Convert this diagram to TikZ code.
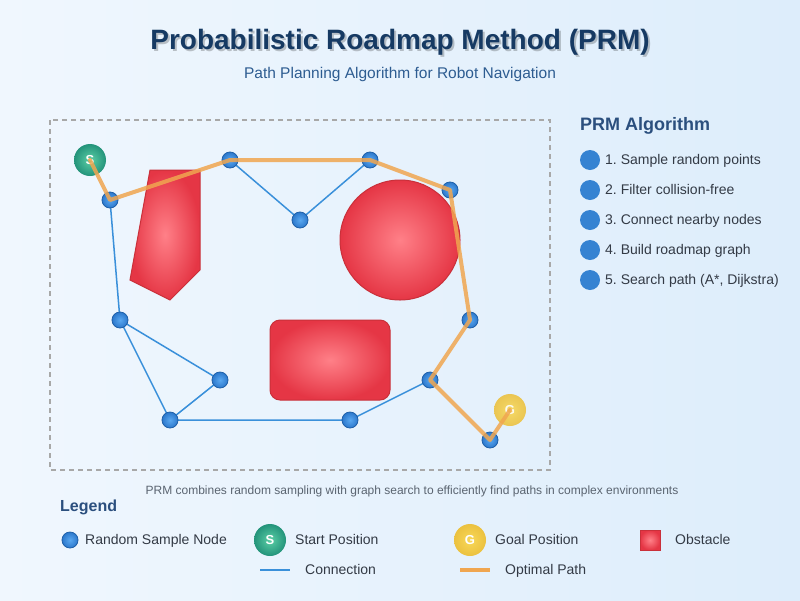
\documentclass[tikz,border=0pt]{standalone}
\usepackage{fontspec}
\setmainfont{Liberation Sans}
\frenchspacing
\definecolor{bgA}{HTML}{F0F7FE}
\definecolor{bgB}{HTML}{DDEDFB}
\definecolor{titleC}{HTML}{163A63}
\definecolor{subC}{HTML}{2D5C91}
\definecolor{headC}{HTML}{2B4F7E}
\definecolor{txtC}{HTML}{333A45}
\definecolor{capC}{HTML}{5A6470}
\definecolor{edgeC}{HTML}{3A90DA}
\definecolor{pathC}{HTML}{F0A650}
\definecolor{nodeIn}{HTML}{5AA8F0}
\definecolor{nodeOut}{HTML}{2C78CC}
\definecolor{nodeRim}{HTML}{1E5FA8}
\definecolor{obsIn}{HTML}{FF8088}
\definecolor{obsOut}{HTML}{E53645}
\definecolor{obsRim}{HTML}{C9303A}
\definecolor{startIn}{HTML}{5CCFA6}
\definecolor{startOut}{HTML}{23937A}
\definecolor{goalIn}{HTML}{F8D858}
\definecolor{goalOut}{HTML}{EBC13F}
\definecolor{bulletC}{HTML}{3583D2}
\definecolor{frameC}{HTML}{A8A8A8}
\tikzset{
  sample/.style={circle, minimum size=16pt, inner sep=0pt, inner color=nodeIn, outer color=nodeOut, draw=nodeRim, line width=0.8pt},
  startpt/.style={circle, minimum size=32pt, inner sep=0pt, inner color=startIn, outer color=startOut, text=white, font=\bfseries\fontsize{13}{15}\selectfont},
  goalpt/.style={circle, minimum size=32pt, inner sep=0pt, inner color=goalIn, outer color=goalOut, text=white, font=\bfseries\fontsize{13}{15}\selectfont},
  obstacle/.style={inner color=obsIn, outer color=obsOut, draw=obsRim, line width=1pt},
  edge/.style={draw=edgeC, line width=1.5pt},
  optpath/.style={draw=pathC, draw opacity=0.85, line width=4pt, line join=round, line cap=round},
  bullet/.style={circle, fill=bulletC, minimum size=20pt, inner sep=0pt},
  % text is placed by its baseline, 4.5pt below the row's centre line
  steptext/.style={anchor=base west, yshift=-4.5pt, inner sep=0pt, text=txtC, font=\fontsize{14}{16}\selectfont},
  legtext/.style={anchor=base west, yshift=-4.5pt, inner sep=0pt, text=txtC, font=\fontsize{14}{16}\selectfont},
  heading/.style={anchor=base west, inner sep=0pt, text=headC},
}
\begin{document}
\begin{tikzpicture}[x=1pt,y=-1pt]
\useasboundingbox (0,0) rectangle (800,600);
% background
\shade[shading angle=135, left color=bgA, right color=bgB] (0,0) rectangle (800,600);

% title with soft shadow
\node (titleshadow) [text=black, text opacity=0.22, font=\bfseries\fontsize{28}{32}\selectfont] at (402,44) {Probabilistic Roadmap Method (PRM)};
\node (title) [text=titleC, font=\bfseries\fontsize{28}{32}\selectfont] at (400,42) {Probabilistic Roadmap Method (PRM)};
\node (subtitle) [text=subC, font=\fontsize{15.5}{18}\selectfont] at (400,74) {Path Planning Algorithm for Robot Navigation};

% configuration space frame
\draw[frameC, line width=1.2pt, dash pattern=on 5pt off 4pt] (50,120) rectangle (550,470);

% obstacles
\path[obstacle] (150,170) -- (200,170) -- (200,270) -- (170,300) -- (130,280) -- cycle;
\path[obstacle] (400,240) circle (60);
\path[obstacle, rounded corners=10pt] (270,320) rectangle (390,400);

% roadmap positions
\coordinate (p1) at (110,200);
\coordinate (p2) at (230,160);
\coordinate (p3) at (300,220);
\coordinate (p4) at (370,160);
\coordinate (p5) at (450,190);
\coordinate (p6) at (470,320);
\coordinate (p7) at (430,380);
\coordinate (p8) at (490,440);
\coordinate (p9) at (120,320);
\coordinate (p10) at (220,380);
\coordinate (p11) at (170,420);
\coordinate (p12) at (350,420);

% roadmap connections
\draw[edge] (p1) -- (p9);
\draw[edge] (p2) -- (p3) -- (p4);
\draw[edge] (p9) -- (p10);
\draw[edge] (p9) -- (p11);
\draw[edge] (p11) -- (p10);
\draw[edge] (p11) -- (p12) -- (p7);

% sample nodes
\foreach \i in {1,...,12}
  \node (n\i) [sample] at (p\i) {};
\node (S) [startpt] at (90,160) {S};
\node (G) [goalpt, opacity=0.9] at (510,410) {G};

% optimal path
\draw[optpath] (S.center) -- (n1.center) -- (n2.center) -- (n4.center) -- (n5.center) -- (n6.center) -- (n7.center) -- (n8.center) -- (G.center);

% algorithm steps
\node (alg) [heading, font=\bfseries\fontsize{18}{21}\selectfont] at (580,130) {PRM Algorithm};
\node (b1) [bullet] at (590,160) {};
\node (b2) [bullet] at (590,190) {};
\node (b3) [bullet] at (590,220) {};
\node (b4) [bullet] at (590,250) {};
\node (b5) [bullet] at (590,280) {};
\node (s1) [steptext] at (605,160) {1. Sample random points};
\node (s2) [steptext] at (605,190) {2. Filter collision-free};
\node (s3) [steptext] at (605,220) {3. Connect nearby nodes};
\node (s4) [steptext] at (605,250) {4. Build roadmap graph};
\node (s5) [steptext] at (605,280) {5. Search path (A*, Dijkstra)};

% caption
\node (cap) [text=capC, font=\fontsize{12}{14}\selectfont] at (412,491) {PRM combines random sampling with graph search to efficiently find paths in complex environments};

% legend
\node (leg) [heading, font=\bfseries\fontsize{16}{19}\selectfont] at (60,511) {Legend};
\node (l1) [sample] at (70,540) {};
\node (t1) [legtext] at (85,540) {Random Sample Node};
\node (l2) [startpt] at (270,540) {S};
\node (t2) [legtext] at (295,540) {Start Position};
\node (l3) [goalpt] at (470,540) {G};
\node (t3) [legtext] at (495,540) {Goal Position};
\path[obstacle] (640,530) rectangle (660,550);
\node (t4) [legtext] at (675,540) {Obstacle};
\coordinate (c1) at (260,570);
\coordinate (c2) at (290,570);
\draw[edge] (c1) -- (c2);
\node (t5) [legtext] at (305,570) {Connection};
\coordinate (c3) at (460,570);
\coordinate (c4) at (490,570);
\draw[draw=pathC, line width=4pt] (c3) -- (c4);
\node (t6) [legtext] at (505,570) {Optimal Path};
\end{tikzpicture}
\end{document}
